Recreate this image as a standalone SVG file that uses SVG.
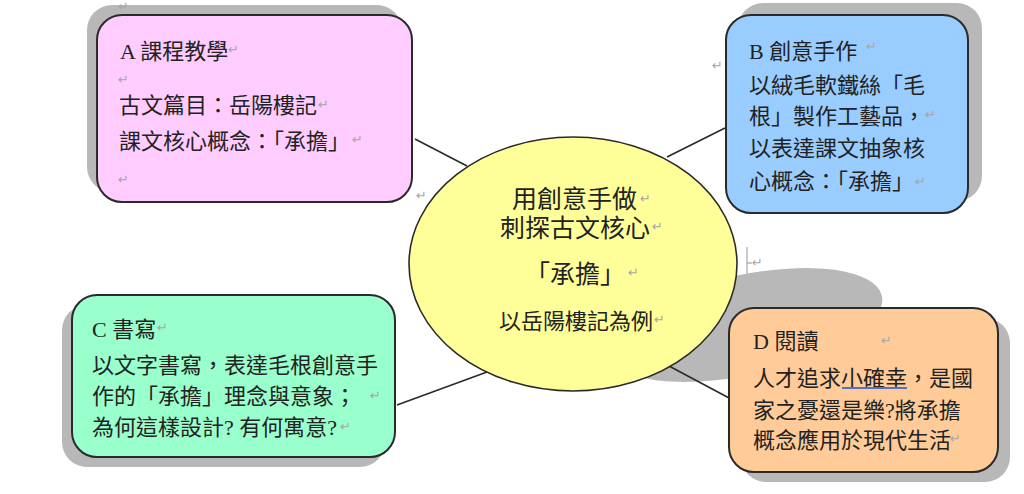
<svg xmlns="http://www.w3.org/2000/svg" width="1024" height="494" viewBox="0 0 1024 494">
<style>
.t{font-family:"Liberation Serif","Noto Sans CJK TC",serif;font-size:22px;fill:#222}
.tc{font-family:"Liberation Serif","Noto Sans CJK TC",serif;font-size:25px;fill:#222}
.m{font-family:"DejaVu Sans",sans-serif;font-size:13px;fill:#a6a6a6}
.sh{fill:#b8b8b8}
.box{stroke:#2a2a2a;stroke-width:2}
.con{stroke:#2a2a2a;stroke-width:1.6;fill:none}
</style>
<rect width="1024" height="494" fill="#ffffff"/>

<!-- stray paragraph marks behind shapes -->
<text class="m" x="712" y="70">↵</text>
<text class="m" x="416" y="200">↵</text>
<g id="mark-right">
<line x1="747" y1="247" x2="747" y2="279" stroke="#a6a6a6" stroke-width="1.2"/>
<line x1="747" y1="263" x2="752" y2="263" stroke="#a6a6a6" stroke-width="1.2"/>
<text class="m" x="752" y="267">↵</text>
</g>

<!-- shadows -->
<ellipse class="sh" cx="745" cy="325" rx="140" ry="50" transform="rotate(-12 745 325)"/>
<rect class="sh" x="87" y="5" width="315" height="187" rx="25"/>
<rect class="sh" x="738" y="3" width="244" height="198" rx="25"/>
<rect class="sh" x="62" y="305" width="323" height="162" rx="25"/>
<rect class="sh" x="741" y="318" width="269" height="164" rx="25"/>
<text class="m" x="118" y="11">↵</text>

<g id="connectors">
<line class="con" x1="415" y1="139" x2="467" y2="166"/>
<line class="con" x1="667" y1="157" x2="725" y2="128"/>
<line class="con" x1="397" y1="405" x2="487" y2="372"/>
<line class="con" x1="669" y1="366" x2="731" y2="399"/>
</g>

<g id="center">
<ellipse cx="573" cy="264" rx="164" ry="127" fill="#ffff99" stroke="#2a2a2a" stroke-width="1.6"/>
<text class="tc" x="512" y="208">用創意手做</text>
<text class="m" x="640" y="203">↵</text>
<text class="tc" x="500" y="237">刺探古文核心</text>
<text class="m" x="652" y="231">↵</text>
<text class="tc" x="525" y="283">「承擔」</text>
<text class="m" x="628" y="277">↵</text>
<text class="t" x="499" y="329">以岳陽樓記為例</text>
<text class="m" x="654" y="324">↵</text>
</g>

<g id="nodeA">
<rect class="box" x="97" y="15" width="315" height="187" rx="25" fill="#ffccff"/>
<text class="t" x="120" y="59">A 課程教學</text>
<text class="m" x="228" y="54">↵</text>
<text class="m" x="118" y="84">↵</text>
<text class="t" x="119" y="113">古文篇目：岳陽樓記</text>
<text class="m" x="318" y="109">↵</text>
<text class="t" x="119" y="149">課文核心概念：「承擔」</text>
<text class="m" x="352" y="144">↵</text>
<text class="m" x="118" y="184">↵</text>
</g>

<g id="nodeB">
<rect class="box" x="726" y="15" width="242" height="198" rx="25" fill="#99ccff"/>
<text class="t" x="749" y="59">B 創意手作</text>
<text class="m" x="866" y="51">↵</text>
<text class="t" x="749" y="93">以絨毛軟鐵絲「毛</text>
<text class="t" x="749" y="124">根」製作工藝品，</text>
<text class="m" x="925" y="119">↵</text>
<text class="t" x="749" y="156">以表達課文抽象核</text>
<text class="t" x="749" y="189">心概念：「承擔」</text>
<text class="m" x="915" y="186">↵</text>
</g>

<g id="nodeC">
<rect class="box" x="72" y="295" width="323" height="162" rx="25" fill="#99ffcc"/>
<text class="t" x="92" y="337">C 書寫</text>
<text class="m" x="157" y="332">↵</text>
<text class="t" x="92" y="373">以文字書寫，表達毛根創意手</text>
<text class="t" x="92" y="404">作的「承擔」理念與意象；</text>
<text class="m" x="370" y="400">↵</text>
<text class="t" x="92" y="435">為何這樣設計? 有何寓意?</text>
<text class="m" x="340" y="431">↵</text>
</g>

<g id="nodeD">
<rect class="box" x="729" y="308" width="269" height="164" rx="25" fill="#ffcc99"/>
<text class="t" x="753" y="349">D 閱讀</text>
<text class="m" x="881" y="345">↵</text>
<text class="t" x="753" y="386">人才追求小確幸，是國</text>
<line x1="842" y1="388" x2="907" y2="388" stroke="#5571c6" stroke-width="2"/>
<text class="t" x="753" y="418">家之憂還是樂?將承擔</text>
<text class="t" x="753" y="448">概念應用於現代生活</text>
<text class="m" x="950" y="443">↵</text>
</g>
</svg>
